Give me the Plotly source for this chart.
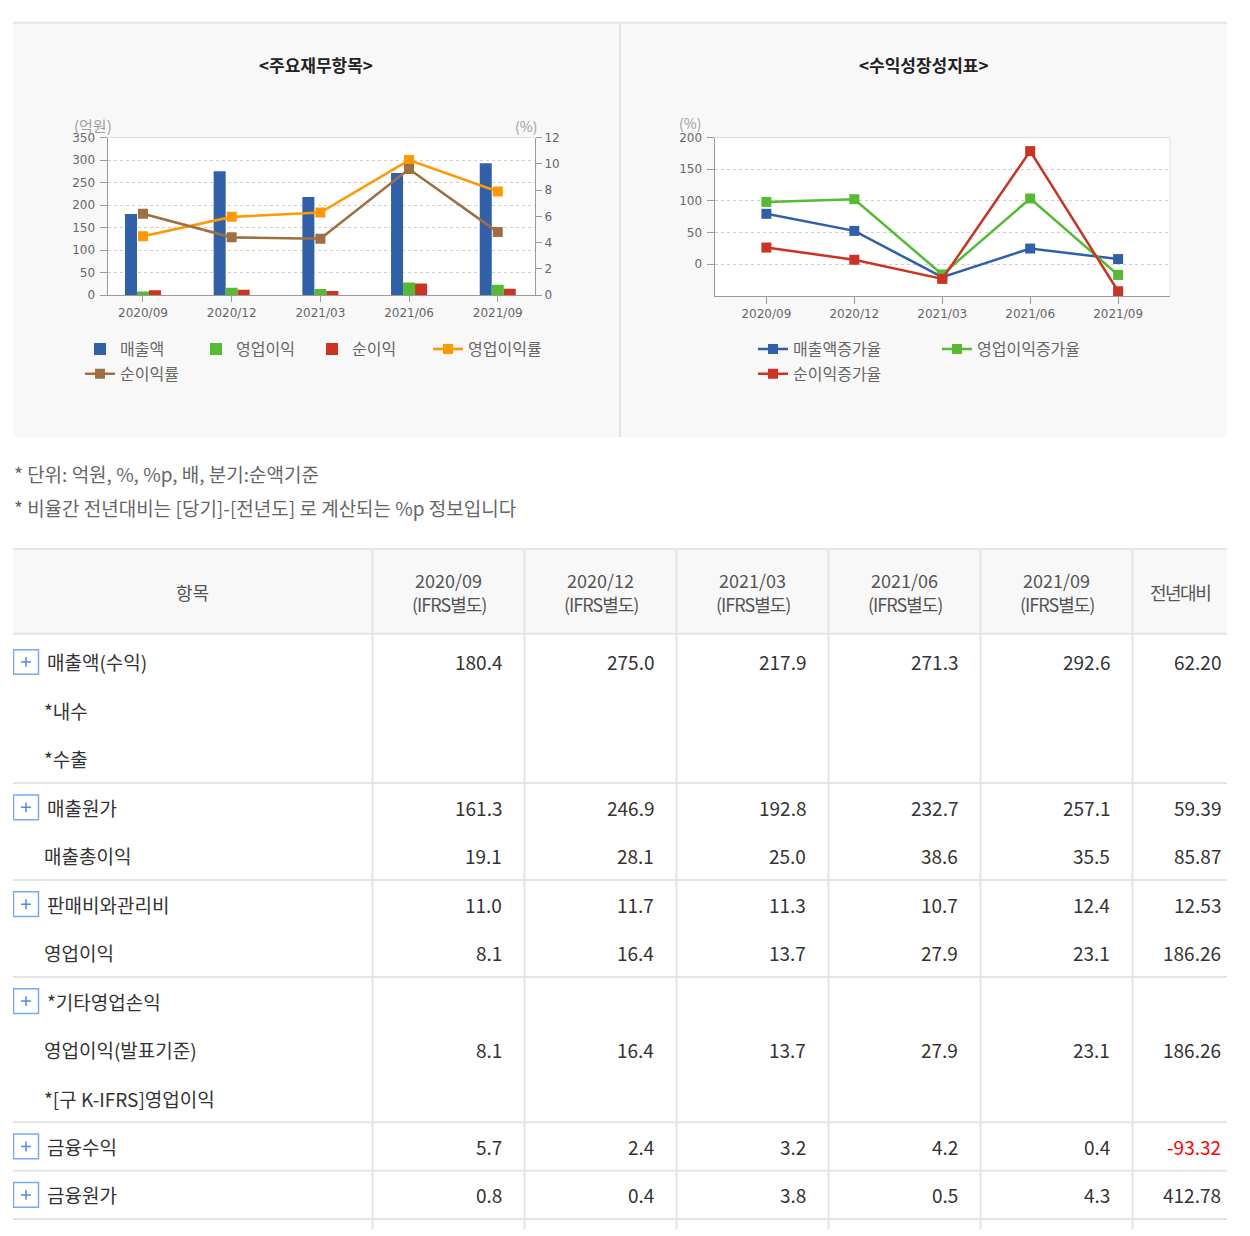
import plotly.graph_objects as go

W, H = 1250, 1236

# ---------------- data ----------------
periods = ["2020/09", "2020/12", "2021/03", "2021/06", "2021/09"]

revenue = [180.4, 275.0, 217.9, 271.3, 292.6]
op_income = [8.1, 16.4, 13.7, 27.9, 23.1]
net_income = [11.2, 12.1, 9.3, 26.0, 14.2]
op_margin = [4.49, 5.96, 6.29, 10.28, 7.89]
net_margin = [6.2, 4.4, 4.3, 9.6, 4.8]

rev_growth = [79.4, 52.4, -20.8, 24.5, 7.9]
op_growth = [98.2, 102.5, -16.5, 103.6, -17.2]
net_growth = [26.1, 6.8, -23.5, 178.5, -43.0]

left_ticks = [0, 50, 100, 150, 200, 250, 300, 350]
right_ticks = [0, 2, 4, 6, 8, 10, 12]
growth_ticks = [0, 50, 100, 150, 200]

notes = ["* 단위: 억원, %, %p, 배, 분기:순액기준",
         "* 비율간 전년대비는 [당기]-[전년도] 로 계산되는 %p 정보입니다"]

header_item = "항목"
header_basis = "(IFRS별도)"
header_yoy = "전년대비"

row_labels = ["매출액(수익)", "*내수", "*수출", "매출원가", "매출총이익", "판매비와관리비",
              "영업이익", "*기타영업손익", "영업이익(발표기준)", "*[구 K-IFRS]영업이익",
              "금융수익", "금융원가"]
row_expandable = [True, False, False, True, False, True, False, True, False, False, True, True]
row_group = [0, 0, 0, 1, 1, 2, 2, 3, 3, 3, 4, 5]

val_2020_09 = [180.4, None, None, 161.3, 19.1, 11.0, 8.1, None, 8.1, None, 5.7, 0.8]
val_2020_12 = [275.0, None, None, 246.9, 28.1, 11.7, 16.4, None, 16.4, None, 2.4, 0.4]
val_2021_03 = [217.9, None, None, 192.8, 25.0, 11.3, 13.7, None, 13.7, None, 3.2, 3.8]
val_2021_06 = [271.3, None, None, 232.7, 38.6, 10.7, 27.9, None, 27.9, None, 4.2, 0.5]
val_2021_09 = [292.6, None, None, 257.1, 35.5, 12.4, 23.1, None, 23.1, None, 0.4, 4.3]
val_yoy = [62.20, None, None, 59.39, 85.87, 12.53, 186.26, None, 186.26, None, -93.32, 412.78]

# ---------------- styles ----------------
C_BLUE = "#3060aa"
C_GREEN = "#55bb33"
C_RED = "#cc3322"
C_ORANGE = "#ff9900"
C_BROWN = "#a06e40"
KR = "Noto Sans CJK KR"
TICKF = dict(family="DejaVu Sans", size=12, color="#666")
AXIS_LINE = "#9a9a9a"
GRID = "#cfcfcf"
BORDER = "#e3e3e8"
PANEL = "#f8f8f9"


def px(x):
    return x / W


def py(y):
    return 1 - y / H


fig = go.Figure()

# ---------------- left chart ----------------
for name, vals, col in [("매출액", revenue, C_BLUE), ("영업이익", op_income, C_GREEN),
                        ("순이익", net_income, C_RED)]:
    fig.add_trace(go.Bar(x=periods, y=vals, name=name, marker=dict(color=col, line=dict(width=0)),
                         xaxis="x", yaxis="y", legend="legend"))

fig.add_trace(go.Scatter(x=periods, y=op_margin, name="영업이익률", mode="lines+markers",
                         line=dict(color=C_ORANGE, width=2.6),
                         marker=dict(symbol="square", size=10, color=C_ORANGE),
                         xaxis="x", yaxis="y2", legend="legend"))
fig.add_trace(go.Scatter(x=periods, y=net_margin, name="순이익률", mode="lines+markers",
                         line=dict(color=C_BROWN, width=2.6),
                         marker=dict(symbol="square", size=10, color=C_BROWN),
                         xaxis="x", yaxis="y2", legend="legend2"))

# ---------------- right chart ----------------
for name, vals, col, lg in [("매출액증가율", rev_growth, C_BLUE, "legend3"),
                            ("영업이익증가율", op_growth, C_GREEN, "legend3"),
                            ("순이익증가율", net_growth, C_RED, "legend4")]:
    fig.add_trace(go.Scatter(x=periods, y=vals, name=name, mode="lines+markers",
                             line=dict(color=col, width=2.5),
                             marker=dict(symbol="square", size=10, color=col),
                             xaxis="x2", yaxis="y3", legend=lg, cliponaxis=False))

# ---------------- shapes: panels ----------------
shapes = []
shapes.append(dict(type="rect", xref="paper", yref="paper", x0=px(13), x1=px(1227),
                   y0=py(435), y1=py(16), fillcolor=PANEL, line=dict(width=0), layer="below"))
shapes.append(dict(type="line", xref="paper", yref="paper", x0=px(13), x1=px(1227),
                   y0=py(16), y1=py(16), line=dict(color=BORDER, width=2), layer="below"))
shapes.append(dict(type="line", xref="paper", yref="paper", x0=px(620), x1=px(620),
                   y0=py(435), y1=py(16), line=dict(color=BORDER, width=2), layer="below"))
# plot-area backgrounds
shapes.append(dict(type="rect", xref="x domain", yref="y domain", x0=0, x1=1, y0=0, y1=1,
                   fillcolor="white", line=dict(width=0), layer="below"))
shapes.append(dict(type="rect", xref="x2 domain", yref="y3 domain", x0=0, x1=1, y0=0, y1=1,
                   fillcolor="white", line=dict(width=0), layer="below"))
# top / right borders
shapes.append(dict(type="line", xref="x domain", yref="y domain", x0=0, x1=1, y0=1, y1=1,
                   line=dict(color="#dddddd", width=1), layer="below"))
shapes.append(dict(type="line", xref="x2 domain", yref="y3 domain", x0=0, x1=1, y0=1, y1=1,
                   line=dict(color="#dddddd", width=1), layer="below"))
shapes.append(dict(type="line", xref="x2 domain", yref="y3 domain", x0=1, x1=1, y0=0, y1=1,
                   line=dict(color="#dddddd", width=1), layer="below"))

PA = dict(xref="paper", yref="paper", showarrow=False, xanchor="center", yanchor="middle")
annotations = []
annotations.append(dict(x=px(316), y=py(58), text="<b>&lt;주요재무항목&gt;</b>",
                        font=dict(family=KR, size=17, color="#222"), **PA))
annotations.append(dict(x=px(924), y=py(58), text="<b>&lt;수익성장성지표&gt;</b>",
                        font=dict(family=KR, size=17, color="#222"), **PA))
annotations.append(dict(x=px(93), y=py(120), text="(억원)",
                        font=dict(family=KR, size=15, color="#a0a0a0"), **PA))
annotations.append(dict(x=px(526), y=py(120), text="(%)",
                        font=dict(family=KR, size=14, color="#a0a0a0"), **PA))
annotations.append(dict(x=px(690), y=py(117), text="(%)",
                        font=dict(family=KR, size=14, color="#a0a0a0"), **PA))
for i, t in enumerate(notes):
    annotations.append(dict(xref="paper", yref="paper", x=px(12), y=py(472 + 34 * i), text=t,
                            xanchor="left", yanchor="middle", showarrow=False,
                            font=dict(family=KR, size=19, color="#666")))

# ---------------- table ----------------
col_widths = [359.5, 152, 152, 152, 152, 152, 94.5]
edges = [0]
for w_ in col_widths:
    edges.append(edges[-1] + w_)
TABLE_W = edges[-1]
TABLE_TOP, TABLE_H = 547, H - 547
HEADER_H = 87
ROW_H = 49
FIRST_PAD = 4

# row centers / group borders derived from group membership
row_centers = []
group_borders = []
pos = HEADER_H + FIRST_PAD
for i, g in enumerate(row_group):
    row_centers.append(pos + ROW_H / 2)
    pos += ROW_H
    if i == len(row_group) - 1 or row_group[i + 1] != g:
        group_borders.append(pos)

TS = dict(xref="x3", yref="y4")
shapes.append(dict(type="rect", x0=0, x1=TABLE_W, y0=1, y1=HEADER_H, fillcolor="#f8f8f9",
                   line=dict(width=0), layer="below", **TS))
for yb in [1, HEADER_H] + group_borders:
    shapes.append(dict(type="line", x0=0, x1=TABLE_W, y0=yb, y1=yb,
                       line=dict(color=BORDER, width=2), **TS))
for xe in edges[1:-1]:
    shapes.append(dict(type="line", x0=xe, x1=xe, y0=0, y1=TABLE_H,
                       line=dict(color=BORDER, width=2), **TS))

# header
hc = HEADER_H / 2 + 1
HF = dict(family=KR, size=18, color="#555")
annotations.append(dict(x=(edges[0] + edges[1]) / 2, y=hc, text=header_item, showarrow=False, font=HF, **TS))
for j, p in enumerate(periods):
    cx = (edges[j + 1] + edges[j + 2]) / 2
    annotations.append(dict(x=cx, y=hc - 12, text=p, showarrow=False, font=HF, **TS))
    annotations.append(dict(x=cx, y=hc + 12, text=f'<span style="letter-spacing:-1px">{header_basis}</span>',
                            showarrow=False, font=HF, **TS))
annotations.append(dict(x=(edges[6] + edges[7]) / 2, y=hc,
                        text=f'<span style="letter-spacing:-1.5px">{header_yoy}</span>',
                        showarrow=False, font=HF, **TS))

# body
value_cols = [val_2020_09, val_2020_12, val_2021_03, val_2021_06, val_2021_09]
for i, lab in enumerate(row_labels):
    yc = row_centers[i]
    if row_expandable[i]:
        shapes.append(dict(type="rect", x0=0.5, x1=25.5, y0=yc - 12.5, y1=yc + 12.5,
                           fillcolor="white", line=dict(color="#78a8f2", width=1.5), **TS))
        shapes.append(dict(type="path", path=f"M 8,{yc} L 18,{yc} M 13,{yc - 5} L 13,{yc + 5}",
                           line=dict(color="#4d8ce8", width=1.5), **TS))
        lx = 32
    else:
        lx = 29
    annotations.append(dict(x=lx, y=yc, text=lab,
                            xanchor="left", showarrow=False, font=dict(family=KR, size=19, color="#333"), **TS))
    for j, col in enumerate(value_cols):
        v = col[i]
        if v is not None:
            annotations.append(dict(x=edges[j + 2] - 21, y=yc, text=f"{v:.1f}", xanchor="right",
                                    showarrow=False, font=dict(family=KR, size=19, color="#333"), **TS))
    v = val_yoy[i]
    if v is not None:
        annotations.append(dict(x=edges[7] - 4, y=yc, text=f"{v:.2f}", xanchor="right", showarrow=False,
                                font=dict(family=KR, size=19, color="#ff0000" if v < 0 else "#333"), **TS))

legend_common = dict(orientation="h", xanchor="left", yanchor="middle", bgcolor="rgba(0,0,0,0)",
                     font=dict(family=KR, size=16, color="#666"), entrywidthmode="pixels")

fig.update_layout(
    width=W, height=H, autosize=False,
    margin=dict(l=0, r=0, t=0, b=0),
    paper_bgcolor="white", plot_bgcolor="white",
    barmode="group", bargap=0.594, bargroupgap=0,
    showlegend=True,
    legend=dict(x=px(80), y=py(346), entrywidth=71, **legend_common),
    legend2=dict(x=px(80), y=py(371), entrywidth=71, **legend_common),
    legend3=dict(x=px(753), y=py(346), entrywidth=139, **legend_common),
    legend4=dict(x=px(753), y=py(371), entrywidth=139, **legend_common),
    xaxis=dict(domain=[px(107.5), px(535)], anchor="y", type="category", range=[-0.4, 4.42],
               showline=True, linecolor=AXIS_LINE, linewidth=1, ticks="outside", ticklen=6,
               tickcolor=AXIS_LINE, tickfont=TICKF, showgrid=False, fixedrange=True),
    yaxis=dict(domain=[py(291.5), py(132)], anchor="x", range=[0, 350], tickvals=left_ticks,
               showline=True, linecolor=AXIS_LINE, ticks="outside", ticklen=7, tickcolor=AXIS_LINE,
               tickfont=TICKF, showgrid=True, gridcolor=GRID, griddash="dot", gridwidth=1,
               zeroline=False, fixedrange=True, ticklabelstandoff=2),
    yaxis2=dict(overlaying="y", side="right", anchor="x", range=[0, 12], tickvals=right_ticks,
                showline=True, linecolor=AXIS_LINE, ticks="outside", ticklen=6, tickcolor=AXIS_LINE,
                tickfont=TICKF, showgrid=False, zeroline=False, fixedrange=True),
    xaxis2=dict(domain=[px(714.5), px(1170)], anchor="y3", type="category", range=[-0.59, 4.59],
                showline=True, linecolor=AXIS_LINE, ticks="outside", ticklen=7, tickcolor=AXIS_LINE,
                tickfont=TICKF, showgrid=False, fixedrange=True),
    yaxis3=dict(domain=[py(292), py(132)], anchor="x2", range=[-50, 200], tickvals=growth_ticks,
                showline=True, linecolor=AXIS_LINE, ticks="outside", ticklen=7, tickcolor=AXIS_LINE,
                tickfont=TICKF, showgrid=True, gridcolor=GRID, griddash="dot", zeroline=False,
                fixedrange=True, ticklabelstandoff=2),
    xaxis3=dict(domain=[px(13), px(13 + TABLE_W)], anchor="y4", range=[0, TABLE_W], visible=False,
                fixedrange=True),
    yaxis4=dict(domain=[0, py(TABLE_TOP)], anchor="x3", range=[TABLE_H, 0], visible=False,
                fixedrange=True),
    shapes=shapes,
    annotations=annotations,
)

fig.write_html("out.html", config={"displayModeBar": False},
               post_script="document.body.style.margin='0px';document.body.style.overflow='hidden';")
